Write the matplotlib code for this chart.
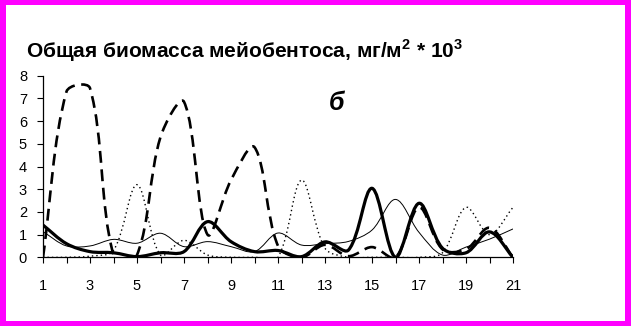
import numpy as np
import matplotlib
matplotlib.use("Agg")
from matplotlib import pyplot as plt
from matplotlib.path import Path
from matplotlib.patches import PathPatch, Rectangle

# Точки по оси X (станции 1..21)
x = list(range(1, 22))

# Толстая сплошная линия
thick = [1.42, 0.6, 0.25, 0.2, 0.03, 0.2, 0.25, 1.57, 0.69, 0.25, 0.3, 0.03,
         0.68, 0.32, 3.04, 0.0, 2.38, 0.4, 0.2, 1.12, 0.0]
# Пунктир (крупные штрихи)
dashed = [0.0, 7.3, 7.45, 0.1, 0.1, 5.3, 6.85, 1.0, 3.4, 4.85, 0.5, 0.0,
          0.55, 0.05, 0.45, 0.0, 2.2, 0.35, 0.35, 1.3, 0.0]
# Точечная линия
dotted = [0.0, 0.0, 0.05, 0.3, 3.2, 0.1, 0.75, 0.1, 0.0, 0.0, 0.0, 3.4,
          0.4, 0.0, 0.0, 0.0, 0.0, 0.2, 2.2, 1.0, 2.2]
# Тонкая сплошная линия
thin = [1.13, 0.5, 0.5, 0.79, 0.62, 1.06, 0.47, 0.69, 0.47, 0.25, 1.07, 0.54,
        0.6, 0.7, 1.2, 2.55, 1.1, 0.1, 0.45, 0.8, 1.25]

xticks = list(range(1, 22))
xlabels = [str(v) if v % 2 == 1 else "" for v in xticks]
yticks = list(range(0, 9))

title = r"Общая биомасса мейобентоса, мг/м$^\mathbf{2}$ * 10$^\mathbf{3}$"

plt.rcParams['font.family'] = ['Liberation Sans', 'DejaVu Sans']
plt.rcParams['mathtext.fontset'] = 'custom'
plt.rcParams['mathtext.bf'] = 'Liberation Sans:bold'
plt.rcParams['mathtext.rm'] = 'Liberation Sans'


# Сглаженная линия как в Excel (кривые Безье)
def smooth_path(ax, xs, ys):
  data = np.column_stack([xs, ys]).astype(float)
  pix = ax.transData.transform(data)
  n = len(data)
  verts = [data[0]]
  codes = [Path.MOVETO]
  for i in range(n - 1):
    i0 = max(i - 1, 0)
    i3 = min(i + 2, n - 1)
    d01 = np.hypot(*(pix[i] - pix[i0]))
    d12 = np.hypot(*(pix[i + 1] - pix[i]))
    d23 = np.hypot(*(pix[i3] - pix[i + 1]))
    f1 = d12 / (d01 + d12) / 3 if d01 + d12 > 0 else 0
    f2 = d12 / (d12 + d23) / 3 if d12 + d23 > 0 else 0
    c1 = data[i] + (data[i + 1] - data[i0]) * f1
    c2 = data[i + 1] - (data[i3] - data[i]) * f2
    verts += [c1, c2, data[i + 1]]
    codes += [Path.CURVE4] * 3
  return Path(verts, codes)


fig = plt.figure(figsize=(6.31, 3.26), dpi=100, facecolor='#ff00ff')
fig.add_artist(Rectangle((6 / 631, 5 / 326), 619 / 631, 316 / 326,
                         transform=fig.transFigure, facecolor='white',
                         edgecolor='none', zorder=-10))

ax = fig.add_axes([43 / 631, (326 - 257.3) / 326, 470 / 631, 181.6 / 326])
ax.set_facecolor('none')
ax.set_xlim(1, 21)
ax.set_ylim(0, 8)

series = [
  (thin, dict(lw=0.7, ls='-')),
  (dotted, dict(lw=1.0, ls=(0, (1, 2.2)))),
  (dashed, dict(lw=1.9, ls=(0, (4.5, 2.5)))),
  (thick, dict(lw=2.3, ls='-')),
]
for ys, style in series:
  p = PathPatch(smooth_path(ax, x, ys), fill=False, edgecolor='black',
                capstyle='butt', joinstyle='round', **style)
  ax.add_patch(p)

ax.spines['top'].set_visible(False)
ax.spines['right'].set_visible(False)
for s in ['left', 'bottom']:
  ax.spines[s].set_linewidth(0.9)
  ax.spines[s].set_zorder(5)

ax.set_xticks(xticks)
ax.set_xticklabels(xlabels)
ax.set_yticks(yticks)
ax.tick_params(axis='x', length=4.5, width=0.8, pad=11, labelsize=10.5)
ax.tick_params(axis='y', length=4.5, width=0.8, pad=7, labelsize=10.5)

fig.text(26 / 631, 1 - 58 / 326, title, fontsize=15, fontweight='bold',
         va='baseline', ha='left')
fig.text(337 / 631, 1 - 110 / 326, "б", fontsize=18, fontstyle='italic',
         fontweight='bold', va='baseline', ha='center')

fig.savefig("out.png", dpi=100, facecolor=fig.get_facecolor())
